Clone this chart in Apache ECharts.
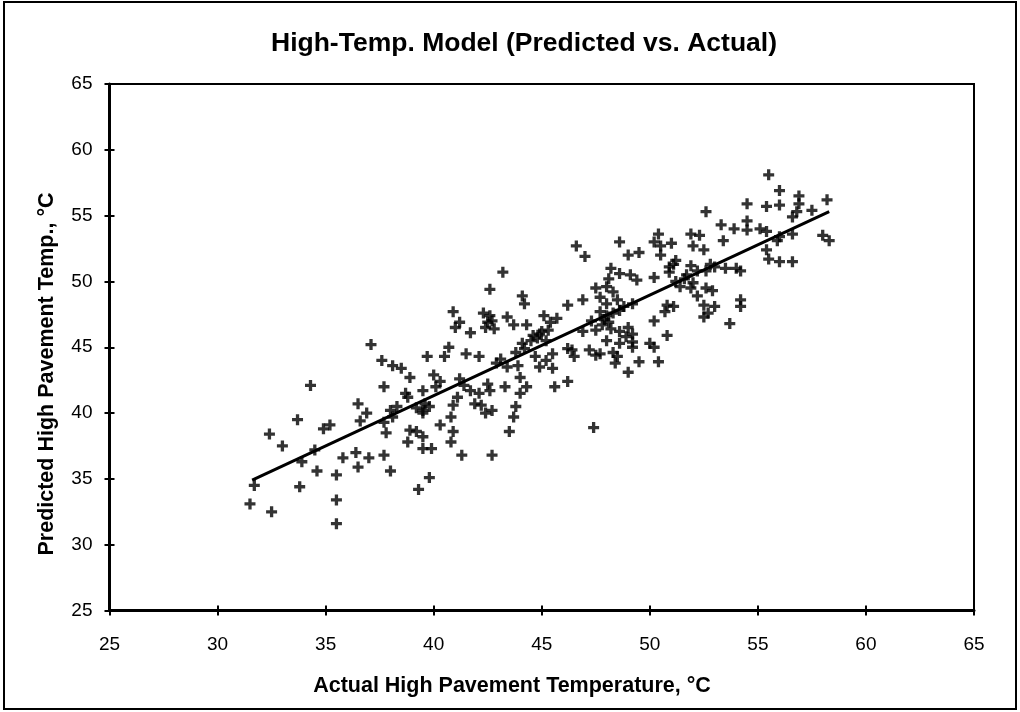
<!DOCTYPE html>
<html><head><meta charset="utf-8">
<script src="https://cdn.jsdelivr.net/npm/echarts@6/dist/echarts.min.js"></script>
<style>html,body{margin:0;padding:0;background:#fff}#c{width:1020px;height:712px}</style>
</head><body><div id="c"></div>
<script>
const chartTitle = 'High-Temp. Model (Predicted vs. Actual)';
const xAxisTitle = 'Actual High Pavement Temperature, °C';
const yAxisTitle = 'Predicted High Pavement Temp., °C';
const axisMin = 25, axisMax = 65, axisStep = 5;

const actualTemp = [
  31.5,31.7,32.5,32.4,33.0,33.7,33.8,33.9,34.3,34.5,34.6,34.9,35.2,35.5,35.5,35.5,35.8,36.4,36.5,37.0,
  37.7,38.0,39.3,36.5,36.9,36.6,37.7,37.1,37.6,38.1,38.5,38.9,37.7,37.8,38.1,38.8,38.7,38.9,38.8,39.5,
  39.5,39.8,39.5,39.2,39.5,39.6,
  47.0,46.6,43.2,42.6,44.1,44.2,46.2,46.9,47.5,47.7,
  40.9,41.2,41.0,41.7,42.3,42.6,42.5,42.8,43.4,43.7,
  44.3,44.6,44.8,45.0,45.2,44.1,45.1,45.4,45.7,46.2,
  46.4,46.5,47.2,47.5,46.9,47.5,47.3,39.7,40.7,40.5,
  41.5,42.1,43.1,43.4,42.9,43.9,44.0,44.7,45.2,44.9,
  45.5,45.5,45.6,46.2,44.3,44.0,43.3,42.5,42.6,40.0,
  40.3,40.1,41.2,41.4,41.1,41.7,42.1,41.9,42.2,42.4,
  42.7,43.8,43.7,43.5,40.9,40.8,39.8,39.5,40.3,40.9,
  40.8,39.9,41.3,42.7,47.4,48.2,48.1,
  52.6,54.5,54.5,55.4,56.0,56.6,53.3,53.9,53.4,54.5,
  55.1,55.4,55.9,55.4,55.5,56.0,56.6,48.6,50.4,50.5,
  50.2,51.9,52.3,52.5,52.0,51.0,49.0,49.5,50.5,51.2,
  50.9,51.9,52.2,52.6,53.0,53.5,54.0,54.2,48.6,49.1,
  49.4,50.2,50.9,51.2,51.7,51.4,51.9,52.2,52.6,52.9,
  48.0,48.3,48.5,48.0,48.8,49.2,50.8,51.1,50.7,52.5,
  52.7,52.5,53.0,54.2,54.2,53.7,47.7,48.0,48.3,48.6,
  47.8,48.2,48.6,49.0,49.2,50.2,50.8,48.0,48.6,49.2,
  49.2,50.0,50.2,47.7,48.3,48.5,48.4,49.0,49.5,50.4,
  56.0,56.9,56.9,56.8,58.2,57.5,56.6,58.0,58.3,56.0,55.5,
  42.7,42.4,44.9,44.5,45.3,43.8,44.2,51.6,52.0,47.9,
  48.1,48.9,51.1,52.8,38.0,38.3,39.2
];
const predictedTemp = [
  33.1,34.5,32.5,38.4,37.5,39.5,34.4,36.3,42.1,37.2,35.6,38.8,39.1,35.3,33.4,31.6,36.6,37.0,35.9,36.6,
  36.8,35.6,34.2,40.7,40.0,39.4,42.0,45.2,44.0,43.6,43.4,42.7,39.3,38.5,39.7,41.2,41.5,38.7,37.8,37.3,
  38.2,35.1,41.7,40.4,40.2,40.7,
  51.9,52.7,50.7,49.4,48.9,48.3,48.2,48.6,49.5,48.8,
  47.7,46.9,46.5,46.1,47.6,47.4,46.9,46.4,47.3,46.7,
  46.7,45.9,45.7,46.2,45.5,45.3,47.4,46.9,47.2,44.9,
  44.8,44.3,44.8,44.4,46.2,46.3,47.0,44.3,45.0,44.3,
  44.5,44.3,44.1,43.5,43.8,43.6,42.7,44.3,44.0,43.5,
  44.5,43.4,42.0,42.4,42.0,41.5,42.0,42.2,41.7,42.9,
  42.4,42.0,42.6,42.1,41.2,41.7,41.5,40.7,40.6,40.0,
  40.2,40.5,39.7,38.6,40.6,39.7,40.5,40.0,39.1,38.6,
  37.8,37.3,36.8,36.8,38.9,51.0,50.2,
  55.3,55.9,54.6,55.7,55.8,54.9,54.3,54.0,53.1,53.9,
  54.0,53.8,53.1,52.4,51.7,51.5,51.5,53.0,53.6,52.7,
  53.0,53.6,53.5,52.4,52.7,52.9,52.0,52.2,52.0,51.6,
  51.1,51.2,50.8,50.8,51.1,51.0,51.0,50.8,50.6,50.5,
  50.1,50.3,50.7,50.0,50.5,49.6,49.5,48.9,49.5,49.3,
  49.6,49.2,48.6,48.3,48.1,48.3,48.2,48.1,47.7,48.2,
  47.6,47.3,48.1,48.6,48.1,46.8,47.7,47.4,47.6,47.8,
  46.7,46.4,46.2,46.5,46.0,47.0,45.9,45.5,45.3,45.4,
  45.0,45.3,45.0,44.5,44.6,44.3,43.8,43.1,43.9,43.9,
  56.9,56.5,55.9,55.3,56.2,55.4,53.6,53.5,53.1,53.4,58.1,
  47.0,46.5,46.0,45.5,46.3,44.6,44.9,50.2,49.9,47.1,
  46.9,45.8,51.3,51.3,40.2,40.5,38.6
];
const trendActual = [31.6, 58.3];
const trendPredicted = [34.9, 55.3];

const plusPath = 'path://M3.5,0H6.5V3.5H10V6.5H6.5V10H3.5V6.5H0V3.5H3.5Z';
const FONT = 'Liberation Sans, Arial, sans-serif';

const chart = echarts.init(document.getElementById('c'), null, {renderer: 'canvas'});

function mainAxis(isX) {
  return {
    type: 'value', min: axisMin, max: axisMax, interval: axisStep,
    position: isX ? 'bottom' : 'left',
    axisLine: {show: true, lineStyle: {color: '#000', width: 3}},
    axisTick: {show: true, inside: false, length: 5, lineStyle: {color: '#000', width: 2}},
    axisLabel: {show: true, color: '#000', fontSize: 19, fontFamily: FONT, margin: isX ? 25 : 17},
    splitLine: {show: false}
  };
}
function innerTicks(isX) {
  return {
    type: 'value', min: axisMin, max: axisMax, interval: axisStep,
    position: isX ? 'bottom' : 'left',
    axisLine: {show: false},
    axisTick: {show: true, inside: true, length: 5, lineStyle: {color: '#000', width: 2}},
    axisLabel: {show: false},
    splitLine: {show: false}
  };
}

chart.setOption({
  animation: false,
  backgroundColor: '#fff',
  grid: {left: 109.5, right: 46, top: 84, bottom: 101.5, show: true, borderColor: '#000', borderWidth: 2, backgroundColor: '#fff'},
  xAxis: [mainAxis(true), innerTicks(true)],
  yAxis: [mainAxis(false), innerTicks(false)],
  graphic: [
    {type: 'rect', shape: {x: 4, y: 2, width: 1012, height: 707}, style: {fill: 'none', stroke: '#000', lineWidth: 2}, silent: true},
    {type: 'text', x: 524, y: 44, style: {text: chartTitle, fontSize: 26.5, fontWeight: 'bold', fontFamily: FONT, fill: '#000', align: 'center', verticalAlign: 'middle'}},
    {type: 'text', x: 512, y: 686, style: {text: xAxisTitle, fontSize: 21.5, fontWeight: 'bold', fontFamily: FONT, fill: '#000', align: 'center', verticalAlign: 'middle'}},
    {type: 'text', x: 47, y: 374, rotation: Math.PI / 2, style: {text: yAxisTitle, fontSize: 21.5, fontWeight: 'bold', fontFamily: FONT, fill: '#000', align: 'center', verticalAlign: 'middle'}}
  ],
  series: [
    {
      type: 'scatter', xAxisIndex: 0, yAxisIndex: 0,
      symbol: plusPath, symbolSize: 11,
      itemStyle: {color: '#000'},
      data: actualTemp.map((a, i) => [a, predictedTemp[i]])
    },
    {
      type: 'line', xAxisIndex: 0, yAxisIndex: 0,
      symbol: 'none', lineStyle: {color: '#000', width: 3},
      data: trendActual.map((a, i) => [a, trendPredicted[i]])
    }
  ]
});
</script>
</body></html>
